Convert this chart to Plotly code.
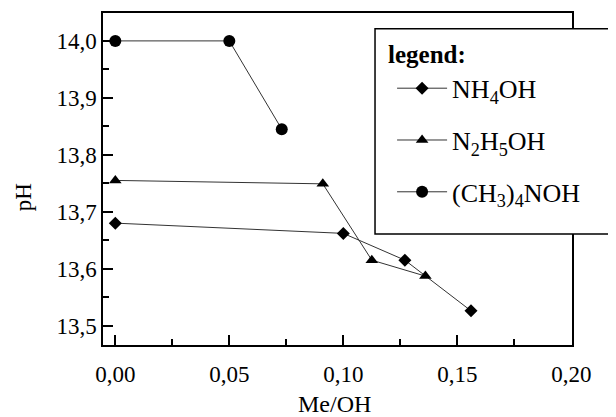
import plotly.graph_objects as go

# data
nh4_x = [0.0, 0.100, 0.127, 0.156]
nh4_y = [13.680, 13.662, 13.615, 13.526]
n2h5_x = [0.0, 0.091, 0.1125, 0.136]
n2h5_y = [13.755, 13.749, 13.615, 13.587]
tma_x = [0.0, 0.050, 0.073]
tma_y = [14.000, 14.000, 13.845]

names = ["NH<sub>4</sub>OH", "N<sub>2</sub>H<sub>5</sub>OH", "(CH<sub>3</sub>)<sub>4</sub>NOH"]

FONT = "Liberation Serif"
line_style = dict(color="#333333", width=1)

fig = go.Figure()
fig.add_trace(go.Scatter(x=nh4_x, y=nh4_y, mode="lines+markers", name=names[0],
                         legendgroup="a", line=line_style,
                         marker=dict(symbol="diamond", size=10, color="black")))
fig.add_trace(go.Scatter(x=n2h5_x, y=n2h5_y, mode="lines+markers", name=names[1],
                         legendgroup="b", line=line_style,
                         marker=dict(symbol="triangle-up", size=11, color="black")))
fig.add_trace(go.Scatter(x=tma_x, y=tma_y, mode="lines+markers", name=names[2],
                         legendgroup="c", line=line_style,
                         marker=dict(symbol="circle", size=12, color="black")))

axis_common = dict(showline=True, linecolor="black", linewidth=1.5, mirror=True,
                   showgrid=False, zeroline=False, ticks="inside", ticklen=10,
                   tickwidth=1.5, tickcolor="black", automargin=False,
                   tickfont=dict(family=FONT, size=23, color="black"))

fig.update_xaxes(range=[-0.0054, 0.2003], tick0=0, dtick=0.05, tickformat=".2f",
                 minor=dict(ticks="inside", ticklen=6, tickwidth=1.5, tickcolor="black", dtick=0.025),
                 ticklabelstandoff=8,
                 **axis_common)
fig.update_yaxes(range=[13.466, 14.049], tick0=13.5, dtick=0.1, tickformat=".1f",
                 minor=dict(ticks="inside", ticklen=6, tickwidth=1.5, tickcolor="black", dtick=0.05),
                 ticklabelstandoff=0,
                 **axis_common)

# axis titles
fig.add_annotation(text="Me/OH", xref="paper", yref="paper",
                   x=0.493, y=-0.178, xanchor="center", yanchor="middle",
                   showarrow=False, font=dict(family=FONT, size=24, color="black"))
fig.add_annotation(text="pH", textangle=-90, xref="paper", yref="paper",
                   x=-0.1677, y=0.446, xanchor="center", yanchor="middle",
                   showarrow=False, font=dict(family=FONT, size=23, color="black"))

# legend frame and heading
fig.add_shape(type="rect", xref="paper", yref="paper", x0=0.580, x1=1.081,
              y0=0.3346, y1=0.9527, layer="above",
              line=dict(color="black", width=1.5), fillcolor="white")
fig.add_annotation(text="<b>legend:</b>", xref="paper", yref="paper",
                   x=0.6037, y=0.874, xanchor="left", yanchor="middle",
                   showarrow=False, font=dict(family=FONT, size=25, color="black"))

fig.update_layout(
    width=608, height=409,
    margin=dict(l=94.7, r=44, t=5.3, b=72, autoexpand=False),
    paper_bgcolor="white", plot_bgcolor="white",
    separators=",.",
    showlegend=True,
    legend=dict(x=0.6164, y=0.844, xanchor="left", yanchor="top",
                bgcolor="rgba(0,0,0,0)", borderwidth=0,
                font=dict(family=FONT, size=26, color="black"),
                tracegroupgap=15, itemwidth=50),
    font=dict(family=FONT, color="black"),
)

fig.write_html("out.html")
